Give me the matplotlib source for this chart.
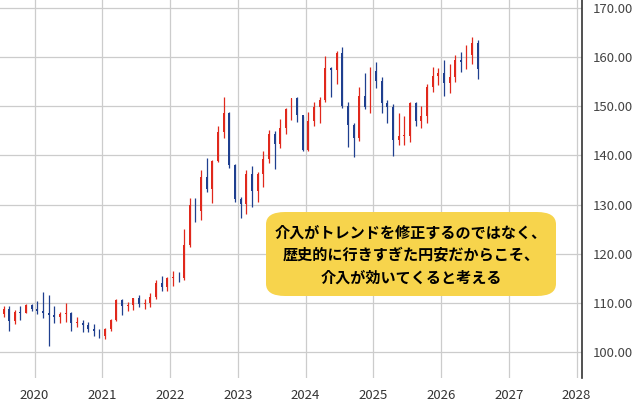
import matplotlib
matplotlib.use("Agg")
import matplotlib.pyplot as plt
from matplotlib.patches import FancyBboxPatch
import numpy as np

# monthly OHLC starting Jul 2019
start_year = 2019.5
opens  = [107.8,108.7,106.3,108.1,108.0,109.5,108.7,108.4,107.9,107.5,107.2,107.8,107.9,105.9,105.9,105.5,104.7,104.3,
          103.2,104.7,106.6,110.7,109.3,109.6,111.1,109.7,110.0,111.3,114.0,113.2,
          115.1,115.1,115.0,121.7,129.9,128.7,135.7,133.2,138.9,144.7,148.7,138.1,
          131.1,130.1,136.2,132.8,136.3,139.3,144.3,142.3,145.5,149.4,151.7,148.2,
          141.0,146.9,149.9,151.3,157.8,157.3,160.9,150.0,146.2,143.6,152.0,149.8,
          157.2,155.2,150.6,149.9,143.1,144.0,144.0,150.7,147.0,148.1,154.0,156.2,
          156.7,154.8,156.0,159.5,159.0,160.5,162.8]
highs  = [109.3,109.3,108.5,109.3,109.7,109.7,110.3,112.2,111.7,109.4,108.1,109.9,108.2,107.1,106.6,106.1,105.7,104.8,
          104.9,106.7,110.9,110.9,110.2,111.1,111.7,110.8,112.1,114.7,115.5,115.2,
          116.4,116.3,125.1,131.3,131.4,137.0,139.4,139.1,145.9,151.9,148.8,138.2,
          131.6,137.1,137.9,136.6,140.9,145.1,145.0,147.4,149.7,151.7,151.9,148.0,
          148.8,150.9,151.9,160.2,157.9,161.3,162.0,150.9,146.5,153.9,156.8,158.0,
          158.9,155.9,151.3,150.5,148.6,148.0,150.9,150.9,150.0,154.5,157.9,157.8,
          159.4,158.5,160.5,161.0,162.5,164.0,163.5]
lows   = [107.2,104.4,105.7,106.5,107.9,108.4,107.7,107.0,101.2,105.9,105.9,106.1,104.2,105.1,104.0,104.0,103.2,102.9,
          102.6,104.4,106.4,107.5,108.3,108.6,109.1,108.7,109.1,110.8,112.5,112.5,
          113.5,114.2,114.7,121.3,126.4,126.9,132.5,130.4,138.7,143.5,137.5,130.6,
          127.2,128.1,129.6,130.6,133.5,138.4,137.2,141.5,144.4,147.3,146.7,140.9,
          140.8,145.9,146.5,150.8,151.9,154.6,149.6,141.7,139.6,142.9,149.4,148.6,
          153.7,148.6,146.5,139.9,142.1,142.1,142.7,145.9,145.5,146.6,152.8,154.3,
          152.1,152.6,155.0,157.0,157.5,158.5,155.5]
closes = [108.7,106.3,108.1,108.0,109.5,108.7,108.4,107.9,107.5,107.2,107.8,107.9,105.9,105.9,105.5,104.7,104.3,103.2,
          104.7,106.6,110.7,109.3,109.6,111.1,109.7,110.0,111.3,114.0,113.2,115.1,
          115.1,115.0,121.7,129.9,128.7,135.7,133.2,138.9,144.7,148.7,138.1,131.1,
          130.1,136.2,132.8,136.3,139.3,144.3,142.3,145.5,149.4,151.7,148.2,141.0,
          146.9,149.9,151.3,157.8,157.3,160.9,150.0,146.2,143.6,152.0,149.8,157.2,
          155.2,150.6,149.9,143.1,144.0,144.0,150.7,147.0,148.1,154.0,156.2,156.7,
          154.8,156.0,159.5,159.0,160.5,162.8,157.5]
year_ticks = [2020, 2021, 2022, 2023, 2024, 2025, 2026, 2027, 2028]
y_ticks = [100, 110, 120, 130, 140, 150, 160, 170]
note = "介入がトレンドを修正するのではなく、\n歴史的に行きすぎた円安だからこそ、\n介入が効いてくると考える"

plt.rcParams['font.family'] = ['Noto Sans CJK JP', 'DejaVu Sans']
fig = plt.figure(figsize=(6.37, 4.08), dpi=100)
ax = fig.add_axes([0, 0.073, 582/637, 0.927])
x = start_year + np.arange(len(opens)) / 12 + 1/24
up, dn = '#e0281c', '#1f3f8f'
for xi, o, h, l, c in zip(x, opens, highs, lows, closes):
    col = up if c >= o else dn
    ax.vlines(xi, l, h, color=col, lw=0.9)
    ax.bar(xi, abs(c - o) or 0.2, bottom=min(o, c), width=0.028, color=col, lw=0)
ax.set_xlim(2019.49, 2028.08)
ax.set_ylim(94.7, 171.6)
ax.set_xticks(year_ticks)
ax.set_xticklabels([str(y) for y in year_ticks], fontsize=9.5, color='#333333')
ax.set_yticks(y_ticks)
ax.set_yticklabels([f"{v:.2f}" for v in y_ticks], fontsize=9.5, color='#444444')
ax.yaxis.tick_right()
ax.tick_params(length=0, pad=8)
ax.grid(True, color='#cccccc', lw=0.9)
ax.set_axisbelow(True)
for s in ['top', 'left', 'bottom']:
    ax.spines[s].set_visible(False)
ax.spines['right'].set_color('#333333')
ax.spines['right'].set_linewidth(1.2)

box = FancyBboxPatch((266/637, 112/408), 290/637, 84/408, transform=fig.transFigure,
                     boxstyle="round,pad=0,rounding_size=0.03", fc='#f7d44c', ec='none', zorder=5)
fig.patches.append(box)
fig.text(411/637, 1 - 255/408, note, ha='center', va='center', fontsize=10.9,
         fontweight='bold', linespacing=1.5, zorder=6)
fig.savefig('out.png', dpi=100, facecolor='white')
